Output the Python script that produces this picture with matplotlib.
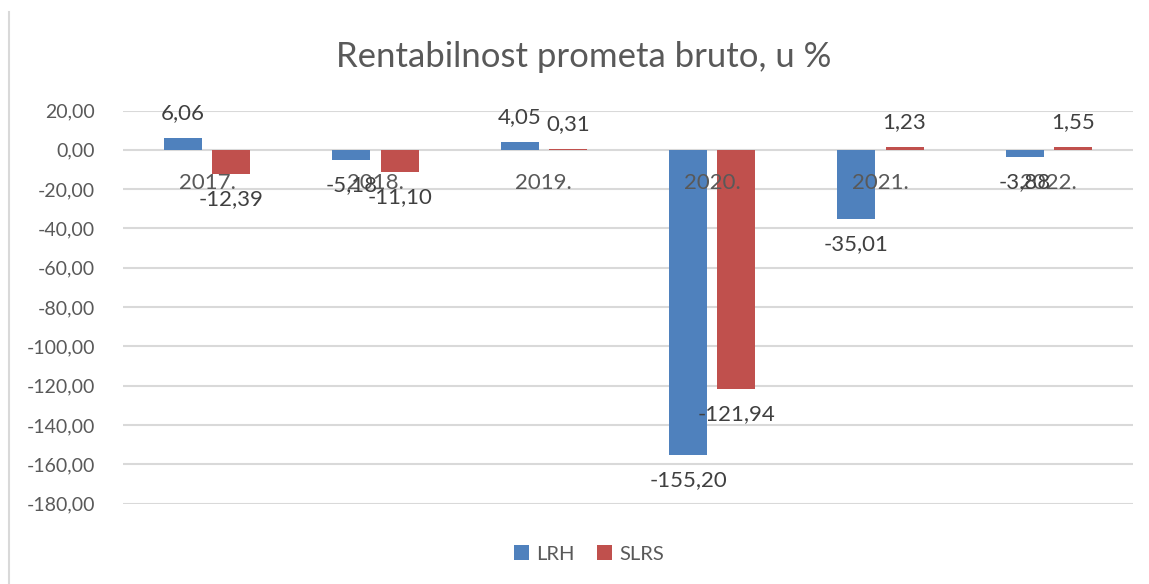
import matplotlib
matplotlib.use("Agg")
import matplotlib.pyplot as plt
from matplotlib.lines import Line2D
from matplotlib.patches import Patch
import numpy as np

categories = ["2017.", "2018.", "2019.", "2020.", "2021.", "2022."]
lrh = [6.06, -5.18, 4.05, -155.20, -35.01, -3.88]
slrs = [-12.39, -11.10, 0.31, -121.94, 1.23, 1.55]
series_names = ["LRH", "SLRS"]
yticks = list(range(-180, 21, 20))
title = "Rentabilnost prometa bruto, u %"

plt.rcParams['font.family'] = ['Lato', 'DejaVu Sans']
TXT = '#595959'
BLUE = '#4F81BD'
RED = '#C0504D'
GRID = '#D9D9D9'

W, H = 1149, 584
fig = plt.figure(figsize=(W / 100, H / 100), dpi=100)
ax = fig.add_axes([123 / W, 1 - 503.5 / H, (1133 - 123) / W, (503.5 - 110.5) / H])

x = np.arange(len(categories))
bw = 0.226
off = 0.143
ax.bar(x - off, lrh, bw, color=BLUE, zorder=3)
ax.bar(x + off, slrs, bw, color=RED, zorder=3)

ax.set_xlim(-0.5, len(categories) - 0.5)
ax.set_ylim(-180, 20)
ax.set_yticks(yticks)
ax.set_yticklabels([f"{v:.2f}".replace('.', ',') for v in yticks], color=TXT, fontsize=14)
ax.tick_params(axis='y', length=0, pad=20)
ax.set_xticks([])
for s in ax.spines.values():
    s.set_visible(False)
ax.grid(axis='y', color=GRID, linewidth=1.5, zorder=0)

def fmt(v):
    return f"{v:.2f}".replace('.', ',')

for xs, vals in ((x - off, lrh), (x + off, slrs)):
    for xi, v in zip(xs, vals):
        dy = 18 if v >= 0 else -18
        ax.annotate(fmt(v), (xi, v), xytext=(0, dy), textcoords='offset points',
                    ha='center', va='center', color='#404040', fontsize=16, zorder=5)

for xi, c in zip(x, categories):
    ax.annotate(c, (xi, 0), xytext=(0, -24), textcoords='offset points',
                ha='center', va='center', color=TXT, fontsize=16, zorder=4)

fig.text(584 / W, 1 - 57 / H, title, ha='center', va='center', color=TXT, fontsize=25)

handles = [Patch(facecolor=BLUE), Patch(facecolor=RED)]
fig.legend(handles, series_names, loc='center', bbox_to_anchor=(589 / W, 1 - 554 / H),
           ncol=2, frameon=False, fontsize=14.5, handlelength=0.75, handleheight=0.75,
           handletextpad=0.35, columnspacing=1.1, labelcolor=TXT)

fig.add_artist(Line2D([8.5 / W, 8.5 / W], [0, 1 - 12 / H], color=GRID, linewidth=1.5))

fig.savefig("out.png", dpi=100, facecolor='white')
